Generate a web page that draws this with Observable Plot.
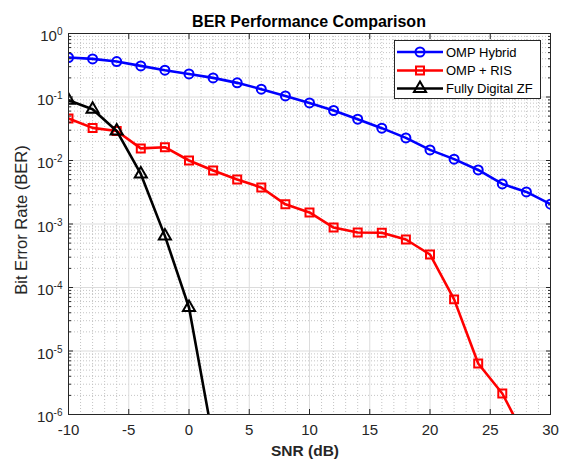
<!DOCTYPE html>
<html><head><meta charset="utf-8">
<script src="https://cdn.jsdelivr.net/npm/d3@7"></script>
<script src="https://cdn.jsdelivr.net/npm/@observablehq/plot@0.6"></script>
<style>body{margin:0;background:#fff} svg{display:block}</style>
</head><body><div id="chart"></div>
<script>
// ---- data ----
const snr = [-10,-8,-6,-4,-2,0,2,4,6,8,10,12,14,16,18,20,22,24,26,28,30];
const ompHybrid = [0.419,0.398,0.362,0.309,0.264,0.231,0.200,0.167,0.133,0.104,0.0807,0.0613,0.0447,0.0323,0.0227,0.0147,0.0105,0.0071,0.00428,0.0032,0.00205];
const snrRis = [-10,-8,-6,-4,-2,0,2,4,6,8,10,12,14,16,18,20,22,24,26,28];
const ompRis = [0.0458,0.0326,0.0292,0.0155,0.0162,0.0100,0.00697,0.00502,0.00376,0.00204,0.00152,0.00088,0.000734,0.000730,0.00057,0.000331,0.000065,0.00000635,0.00000214,0.0000004];
const snrZf = [-10,-8,-6,-4,-2,0,2];
const fullyDigitalZf = [0.089,0.0643,0.0292,0.00615,0.00065,0.0000484,0.0000004];
const seriesNames = ["OMP Hybrid","OMP + RIS","Fully Digital ZF"];
const seriesColors = ["#0000ff","#ff0000","#000000"];
const seriesSymbols = ["circle","square","triangle"];
const xTicks = [-10,-5,0,5,10,15,20,25,30];
const yTicks = [1e-6,1e-5,1e-4,1e-3,1e-2,1e-1,1];
const titleText = "BER Performance Comparison";
const xLabel = "SNR (dB)";
const yLabel = "Bit Error Rate (BER)";

// ---- derived tables ----
const xMinor = d3.range(-10, 31, 1).filter(v => v % 5 !== 0);
const yMinor = [];
for (let k = -6; k < 0; k++) for (let m = 2; m <= 9; m++) yMinor.push(m * Math.pow(10, k));

const series = [
  {name: seriesNames[0], color: seriesColors[0], symbol: seriesSymbols[0], rows: snr.map((x,i)=>({x, y: ompHybrid[i]}))},
  {name: seriesNames[1], color: seriesColors[1], symbol: seriesSymbols[1], rows: snrRis.map((x,i)=>({x, y: ompRis[i]}))},
  {name: seriesNames[2], color: seriesColors[2], symbol: seriesSymbols[2], rows: snrZf.map((x,i)=>({x, y: fullyDigitalZf[i]}))}
];

const axisColor = "#262626";
const seriesMarks = series.flatMap(s => [
  Plot.line(s.rows, {x: "x", y: "y", stroke: s.color, strokeWidth: 2.6, clip: true}),
  Plot.dot(s.rows, {x: "x", y: "y", symbol: s.symbol, r: 4.5, stroke: s.color, strokeWidth: 2, fill: "none", clip: true})
]);

const chart = Plot.plot({
  width: 561, height: 460,
  marginLeft: 68, marginRight: 11, marginTop: 33, marginBottom: 46,
  style: {fontFamily: "'Liberation Sans', Arial, sans-serif", fontSize: "15px", color: axisColor, background: "#fff"},
  x: {domain: [-10, 30]},
  y: {type: "log", domain: [1e-6, 1]},
  marks: [
    Plot.gridX(xMinor, {stroke: "#c4c4c4", strokeOpacity: 1, strokeDasharray: "1,2"}),
    Plot.gridY(yMinor, {stroke: "#c4c4c4", strokeOpacity: 1, strokeDasharray: "1,2"}),
    Plot.gridX(xTicks, {stroke: "#dcdcdc", strokeOpacity: 1}),
    Plot.gridY(yTicks, {stroke: "#dcdcdc", strokeOpacity: 1}),
    ...seriesMarks,
    Plot.frame({stroke: axisColor}),
    Plot.axisX(xTicks, {anchor: "bottom", tickSize: -5, fill: "none", stroke: axisColor, label: null}),
    Plot.axisX(xTicks, {anchor: "top", tickSize: -5, fill: "none", stroke: axisColor, label: null}),
    Plot.axisY(yTicks, {anchor: "left", tickSize: -5, fill: "none", stroke: axisColor, label: null}),
    Plot.axisY(yTicks, {anchor: "right", tickSize: -5, fill: "none", stroke: axisColor, label: null}),
    Plot.axisY(yMinor, {anchor: "left", tickSize: -3, fill: "none", stroke: axisColor, label: null}),
    Plot.axisY(yMinor, {anchor: "right", tickSize: -3, fill: "none", stroke: axisColor, label: null}),
    Plot.axisX(xTicks, {anchor: "bottom", tickSize: 0, tickPadding: 10, tickFormat: d => String(d), fill: axisColor, label: null}),
    Plot.axisY(yTicks, {anchor: "left", tickSize: 0, tickPadding: 6, dy: 3, tickFormat: d => String(Math.round(Math.log10(d))), fill: axisColor, label: null})
  ]
});

const svg = d3.select(chart);
// superscript exponents on y tick labels
svg.selectAll('[aria-label="y-axis tick label"] text').each(function() {
  const t = d3.select(this);
  const exp = t.text();
  t.text(null);
  t.append("tspan").text("10");
  t.append("tspan").attr("dy", "-6.3").attr("font-size", "10px").text(exp);
});

// title and axis labels
svg.append("text").attr("x", 309).attr("y", 26.5).attr("text-anchor", "middle")
  .attr("font-size", "16px").attr("font-weight", "bold").attr("fill", "#000").text(titleText);
svg.append("text").attr("x", 305).attr("y", 455.5).attr("text-anchor", "middle")
  .attr("font-size", "15.5px").attr("font-weight", "bold").attr("fill", axisColor).text(xLabel);
svg.append("text").attr("transform", "translate(26.5,220) rotate(-90)").attr("text-anchor", "middle")
  .attr("font-size", "16.5px").attr("fill", axisColor).text(yLabel);

// legend
const lg = svg.append("g").attr("font-size", "13px").attr("text-anchor", "start");
lg.append("rect").attr("x", 394.5).attr("y", 40.5).attr("width", 146).attr("height", 58)
  .attr("fill", "#fff").attr("stroke", axisColor);
const rowY = [52, 70.5, 88.5];
const symMap = {square: d3.symbolSquare, triangle: d3.symbolTriangle};
series.forEach((s, i) => {
  const y = rowY[i];
  lg.append("line").attr("x1", 397).attr("x2", 443).attr("y1", y).attr("y2", y)
    .attr("stroke", s.color).attr("stroke-width", 2.6);
  if (s.symbol === "circle") {
    lg.append("circle").attr("cx", 420).attr("cy", y).attr("r", 4.5)
      .attr("fill", "none").attr("stroke", s.color).attr("stroke-width", 2);
  } else {
    lg.append("path").attr("transform", `translate(420,${y})`)
      .attr("d", d3.symbol(symMap[s.symbol], Math.PI * 4.5 * 4.5)())
      .attr("fill", "none").attr("stroke", s.color).attr("stroke-width", 2);
  }
  lg.append("text").attr("x", 446).attr("y", y + 4.7).attr("text-anchor", "start").attr("fill", "#000").text(s.name);
});

document.getElementById("chart").appendChild(chart);
</script>
</body></html>
